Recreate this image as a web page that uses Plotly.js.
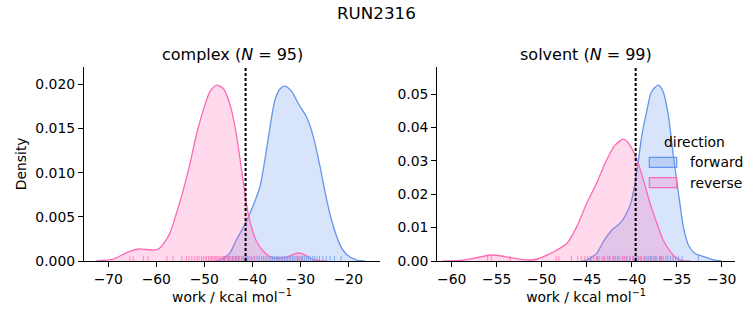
<!DOCTYPE html>
<html>
<head>
<meta charset="utf-8">
<script src="https://cdn.plot.ly/plotly-3.0.1.min.js"></script>
<style>html,body{margin:0;padding:0;background:#fff;}#chart{width:753px;height:325px;}</style>
</head>
<body>
<div id="chart"></div>
<script>
// ---- Data ----
const suptitle = "RUN2316";
const panelTitles = ["complex (<i>N</i> = 95)", "solvent (<i>N</i> = 99)"];
const legendTitle = "direction";
const seriesNames = ["forward", "reverse"];

// complex: KDE density curves
const complexFwdX = [-47.5,-46.4,-44.7,-43.3,-41.5,-40.8,-39.8,-38.4,-37.4,-36.3,-35.3,-34.2,-33.2,-31.8,-30.4,-28.7,-27.3,-25.9,-24.5,-23.1,-21.7,-20.3,-18.3,-16.5];
const complexFwdY = [0,0.0002,0.0009,0.0024,0.0042,0.0050,0.0063,0.0084,0.0114,0.0152,0.0182,0.0195,0.0198,0.0192,0.0178,0.0163,0.0141,0.0107,0.0069,0.0039,0.0018,0.0007,0.0001,0];
const complexRevX = [-72.5,-69.0,-66.9,-65.5,-63.75,-62.0,-60.3,-59.2,-58.2,-57.2,-55.8,-54.4,-53.0,-51.6,-50.2,-48.8,-47.4,-46.0,-44.7,-43.6,-42.6,-41.5,-40.8,-40.0,-39.1,-37.7,-36.3,-34.5,-32.5,-31.2,-30.0,-28.8,-27.5,-26.0,-24.5];
const complexRevY = [0,0.0002,0.00075,0.0011,0.00136,0.0013,0.00124,0.0015,0.0022,0.0031,0.0054,0.0080,0.0110,0.0144,0.0171,0.0192,0.0199,0.0195,0.0178,0.0152,0.0117,0.0075,0.0052,0.0035,0.0022,0.0011,0.0005,0.0003,0.0005,0.0008,0.0009,0.0006,0.0002,0.00003,0];
const complexThreshold = -41.4;

// solvent: KDE density curves
const solventFwdX = [-45.5,-45.0,-43.9,-43.15,-42.2,-41.3,-40.56,-40.0,-39.4,-38.9,-38.3,-37.8,-37.04,-36.5,-35.9,-35.4,-34.8,-34.26,-33.7,-33.0,-32.0,-30.9,-30.0];
const solventFwdY = [0,0.0003,0.0023,0.0058,0.0093,0.0113,0.0143,0.0183,0.0272,0.0372,0.0452,0.0507,0.0527,0.0507,0.0432,0.0322,0.0203,0.0103,0.0048,0.0023,0.0013,0.0003,0];
const solventRevX = [-61.0,-59.0,-57.6,-56.5,-55.6,-54.5,-53.5,-52.3,-51.3,-50.5,-49.8,-48.3,-47.2,-46.1,-45.0,-43.9,-42.8,-41.85,-40.9,-40.2,-39.4,-38.7,-37.96,-37.2,-36.5,-35.7,-35.0,-34.3,-33.5];
const solventRevY = [0,0.0002,0.0008,0.0014,0.0018,0.0015,0.0010,0.0005,0.0003,0.0006,0.0013,0.0033,0.0053,0.0103,0.0173,0.0233,0.0302,0.0347,0.0365,0.0347,0.0302,0.0243,0.0173,0.0113,0.0063,0.0028,0.0008,0.0001,0];
const solventThreshold = -39.56;

// rug samples (work values)
const complexRugFwd = [-45.8,-44.9,-44.1,-43.5,-42.9,-42.2,-41.8,-41.2,-40.7,-40.1,-39.6,-39.0,-38.6,-38.1,-37.7,-37.3,-36.9,-36.5,-36.1,-35.8,-35.4,-35.0,-34.7,-34.4,-34.0,-33.7,-33.3,-33.0,-32.7,-32.3,-32.0,-31.6,-31.3,-30.9,-30.6,-30.2,-29.8,-29.5,-29.1,-28.7,-28.3,-27.9,-27.4,-27.0,-26.5,-26.0,-25.3,-24.6,-23.8,-22.9,-21.5];
const complexRugRev = [-65.5,-64.8,-62.7,-61.7,-57.8,-56.5,-54.7,-53.7,-53.2,-52.6,-52.0,-51.5,-51.1,-50.6,-50.2,-49.8,-49.5,-49.1,-48.8,-48.5,-48.2,-47.9,-47.6,-47.4,-47.1,-46.8,-46.5,-46.3,-46.0,-45.8,-45.5,-45.2,-45.0,-44.7,-44.4,-44.2,-43.9,-43.6,-43.3,-43.0,-42.7,-42.3,-41.9,-41.5,-41.0,-40.3,-39.5,-30.5,-29.8];
const solventRugFwd = [-44.6,-43.8,-43.1,-42.5,-42.0,-41.5,-41.0,-40.6,-40.2,-39.8,-39.5,-39.2,-38.9,-38.6,-38.4,-38.1,-37.9,-37.6,-37.4,-37.2,-36.9,-36.7,-36.5,-36.2,-36.0,-35.7,-35.4,-35.1,-34.8,-34.4,-32.6];
const solventRugRev = [-56.0,-55.6,-53.5,-48.4,-48.1,-46.7,-46.0,-45.6,-45.2,-44.9,-44.5,-44.2,-43.9,-43.6,-43.3,-43.0,-42.7,-42.4,-42.1,-41.8,-41.6,-41.3,-41.0,-40.8,-40.5,-40.2,-39.9,-39.6,-39.3,-39.0,-38.6,-38.2,-37.8,-37.4,-36.8];

// axis ticks
const complexXTicks = [-70,-60,-50,-40,-30,-20];
const complexYTicks = [0,0.005,0.010,0.015,0.020];
const solventXTicks = [-60,-55,-50,-45,-40,-35,-30];
const solventYTicks = [0,0.01,0.02,0.03,0.04,0.05];

// ---- Styling ----
const BLUE = "#6495ED", PINK = "#FF69B4";
const BLUE_FILL = "rgba(100,149,237,0.25)", PINK_FILL = "rgba(255,105,180,0.25)";
const FONT = "DejaVu Sans, sans-serif";
const FS = 13.9;

function kde(x, y, xa, ya, color, fill, name) {
  return {type:"scatter", mode:"lines", x:x, y:y, xaxis:xa, yaxis:ya,
    line:{color:color, width:1.3, shape:"spline", smoothing:0.7},
    fill:"tozeroy", fillcolor:fill, name:name, showlegend:false, hoverinfo:"skip"};
}
function rug(vals, xa, ya, color) {
  const xs = [], ys = [];
  vals.forEach(v => { xs.push(v, v, null); ys.push(0, 0.026, null); });
  return {type:"scatter", mode:"lines", x:xs, y:ys, xaxis:xa, yaxis:ya,
    line:{color:color, width:1}, opacity:0.75, showlegend:false, hoverinfo:"skip"};
}

const traces = [
  kde(complexFwdX, complexFwdY, "x", "y", BLUE, BLUE_FILL, seriesNames[0]),
  kde(complexRevX, complexRevY, "x", "y", PINK, PINK_FILL, seriesNames[1]),
  kde(solventFwdX, solventFwdY, "x2", "y2", BLUE, BLUE_FILL, seriesNames[0]),
  kde(solventRevX, solventRevY, "x2", "y2", PINK, PINK_FILL, seriesNames[1]),
  rug(complexRugFwd, "x", "y3", BLUE),
  rug(complexRugRev, "x", "y3", PINK),
  rug(solventRugFwd, "x2", "y4", BLUE),
  rug(solventRugRev, "x2", "y4", PINK)
];

const W = 753, H = 325;
const L1 = 84/W, R1 = 380/W, L2 = 437.3/W, R2 = 735/W;
const YB = (H-261)/H, YT = (H-66.7)/H;
const px = v => v/W, py = v => (H-v)/H;

const axBase = {showline:true, linecolor:"#000", linewidth:1.1, ticks:"outside", ticklen:5, tickwidth:1, tickcolor:"#000",
  showgrid:false, zeroline:false, tickfont:{family:FONT, size:FS, color:"#000"}, mirror:false};
const xTitle = {text:"work / kcal mol<sup>−1</sup>", font:{family:FONT, size:FS, color:"#000"}, standoff:6};

// manual legend (patch boxes + texts), positioned in paper coordinates
const legendShapes = [
  {type:"rect", xref:"paper", yref:"paper", x0:px(649.3), x1:px(676.7), y0:py(167.3), y1:py(157.3), fillcolor:BLUE_FILL, line:{color:BLUE, width:1.2}, layer:"above"},
  {type:"rect", xref:"paper", yref:"paper", x0:px(649.3), x1:px(676.7), y0:py(187.7), y1:py(177.7), fillcolor:PINK_FILL, line:{color:PINK, width:1.2}, layer:"above"}
];
const legendTexts = [
  {text:legendTitle, xref:"paper", yref:"paper", x:px(694.5), y:py(141.7), xanchor:"center", yanchor:"middle", showarrow:false, font:{family:FONT, size:FS, color:"#000"}},
  {text:seriesNames[0], xref:"paper", yref:"paper", x:px(687.5), y:py(162), xanchor:"left", yanchor:"middle", showarrow:false, font:{family:FONT, size:FS, color:"#000"}},
  {text:seriesNames[1], xref:"paper", yref:"paper", x:px(687.5), y:py(182.5), xanchor:"left", yanchor:"middle", showarrow:false, font:{family:FONT, size:FS, color:"#000"}}
];

const layout = {
  width:W, height:H, margin:{l:0, r:0, t:0, b:0},
  paper_bgcolor:"#fff", plot_bgcolor:"rgba(0,0,0,0)",
  font:{family:FONT, color:"#000"},
  showlegend:false,
  xaxis: Object.assign({}, axBase, {domain:[L1,R1], range:[-75.06,-13.4], tickvals:complexXTicks, anchor:"y", title:xTitle}),
  yaxis: Object.assign({}, axBase, {domain:[YB,YT], range:[0,0.02199], tickvals:complexYTicks, tickformat:".3f", anchor:"x",
    title:{text:"Density", font:{family:FONT, size:FS, color:"#000"}, standoff:5}}),
  xaxis2: Object.assign({}, axBase, {domain:[L2,R2], range:[-61.6,-28.52], tickvals:solventXTicks, anchor:"y2", title:xTitle}),
  yaxis2: Object.assign({}, axBase, {domain:[YB,YT], range:[0,0.0582], tickvals:solventYTicks, tickformat:".2f", anchor:"x2"}),
  yaxis3: {overlaying:"y", range:[0,1], visible:false, anchor:"x"},
  yaxis4: {overlaying:"y2", range:[0,1], visible:false, anchor:"x2"},
  shapes:[
    {type:"line", xref:"x", yref:"y domain", x0:complexThreshold, x1:complexThreshold, y0:0, y1:1, line:{color:"#000", width:2, dash:"3px,2px"}},
    {type:"line", xref:"x2", yref:"y2 domain", x0:solventThreshold, x1:solventThreshold, y0:0, y1:1, line:{color:"#000", width:2, dash:"3px,2px"}}
  ].concat(legendShapes),
  annotations:[
    {text:suptitle, xref:"paper", yref:"paper", x:0.5, y:py(13), xanchor:"center", yanchor:"middle", showarrow:false, font:{family:FONT, size:16.7, color:"#000"}},
    {text:panelTitles[0], xref:"paper", yref:"paper", x:(L1+R1)/2, y:py(54), xanchor:"center", yanchor:"middle", showarrow:false, font:{family:FONT, size:16, color:"#000"}},
    {text:panelTitles[1], xref:"paper", yref:"paper", x:(L2+R2)/2, y:py(54), xanchor:"center", yanchor:"middle", showarrow:false, font:{family:FONT, size:16, color:"#000"}}
  ].concat(legendTexts)
};

Plotly.newPlot("chart", traces, layout, {staticPlot:true, displayModeBar:false});
</script>
</body>
</html>
